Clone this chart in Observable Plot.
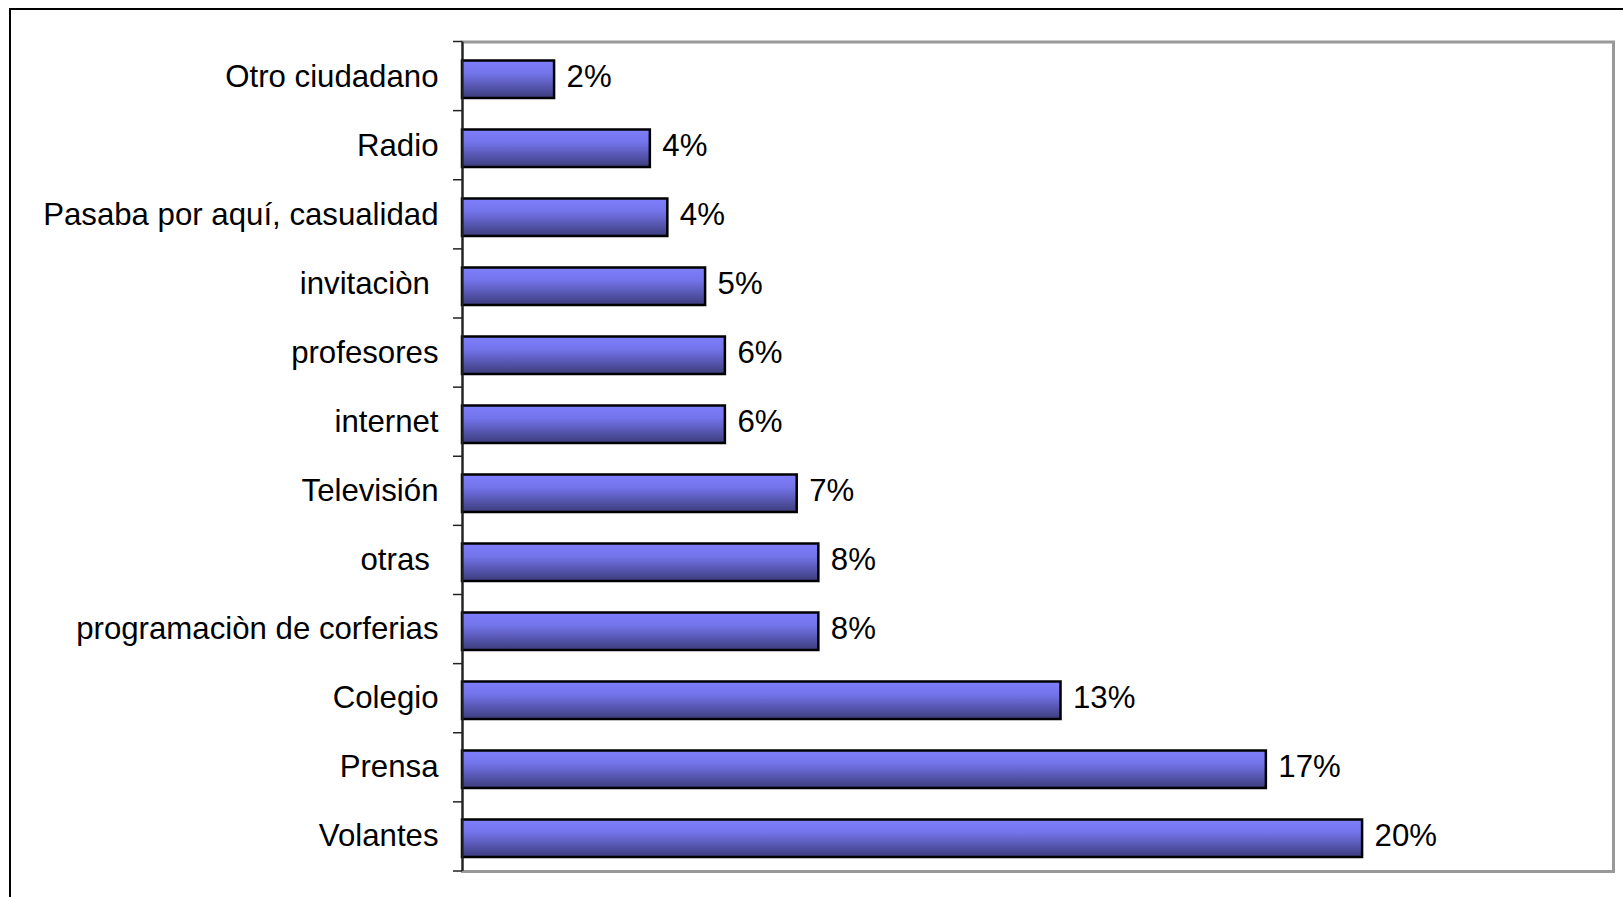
<!DOCTYPE html>
<html>
<head>
<meta charset="utf-8">
<script src="https://cdn.jsdelivr.net/npm/d3@7"></script>
<script src="https://cdn.jsdelivr.net/npm/@observablehq/plot@0.6"></script>
<style>
  html, body { margin: 0; padding: 0; background: #fff; }
  #wrap { position: relative; width: 1623px; height: 897px; overflow: hidden; }
  #outer { position: absolute; left: 9px; top: 8px; width: 1700px; height: 1000px;
           border-top: 2px solid #000; border-left: 2px solid #000; }
  #chart { position: absolute; left: 0; top: 0; }
  svg text { white-space: pre; }
</style>
</head>
<body>
<div id="wrap"><div id="outer"></div><div id="chart"></div></div>
<script>
const categories = [
  "Otro ciudadano",
  "Radio",
  "Pasaba por aquí, casualidad",
  "invitaciòn ",
  "profesores",
  "internet",
  "Televisión",
  "otras ",
  "programaciòn de corferias",
  "Colegio",
  "Prensa",
  "Volantes"
];
const values = [2.00, 4.08, 4.46, 5.28, 5.71, 5.71, 7.27, 7.74, 7.74, 13.00, 17.46, 19.55];
const xDomain = [0, 25];

const data = categories.map((c, i) => ({cat: c, v: values[i], label: Math.round(values[i]) + "%"}));

const W = 1623, H = 897;
const FS = 31.2;
const chart = Plot.plot({
  width: W,
  height: H,
  marginLeft: 462,
  marginRight: 10,
  marginTop: 41.5,
  marginBottom: 26,
  style: {fontFamily: "'Liberation Sans', Arial, sans-serif", background: "transparent", overflow: "visible"},
  x: {domain: xDomain, axis: null},
  y: {domain: categories, padding: 0, axis: null},
  marks: [
    () => {
      const svg = d3.create("svg:defs");
      const g = svg.append("linearGradient").attr("id", "barGrad")
        .attr("x1", 0).attr("y1", 0).attr("x2", 0).attr("y2", 1);
      g.append("stop").attr("offset", "0%").attr("stop-color", "#7f7ffd");
      g.append("stop").attr("offset", "35%").attr("stop-color", "#7373ea");
      g.append("stop").attr("offset", "100%").attr("stop-color", "#3c3c7c");
      return svg.node();
    },
    Plot.frame({stroke: "#999", strokeWidth: 3}),
    Plot.barX(data, {x: "v", y: "cat", fill: "url(#barGrad)", stroke: "#000", strokeWidth: 2.5, insetTop: 18.5, insetBottom: 13}),
    Plot.ruleX([0], {stroke: "#222", strokeWidth: 2}),
    Plot.axisY({tickSize: 0, tickPadding: 24, fontSize: FS, fill: "#000", label: null}),
    Plot.text(data, {x: "v", y: "cat", text: "label", dx: 12, textAnchor: "start", fontSize: FS, fill: "#000"})
  ]
});

// tick marks at band boundaries, from the y scale
const ys = chart.scale("y");
const xs = chart.scale("x");
const [r0, r1] = ys.range;
const n = ys.domain.length;
const x0 = xs.apply(0);
const sel = d3.select(chart);
for (let i = 0; i <= n; i++) {
  const y = r0 + i * (r1 - r0) / n;
  sel.append("line").attr("x1", x0 - 9).attr("x2", x0).attr("y1", y).attr("y2", y)
    .attr("stroke", "#222").attr("stroke-width", 1.5);
}

document.getElementById("chart").appendChild(chart);
</script>
</body>
</html>
